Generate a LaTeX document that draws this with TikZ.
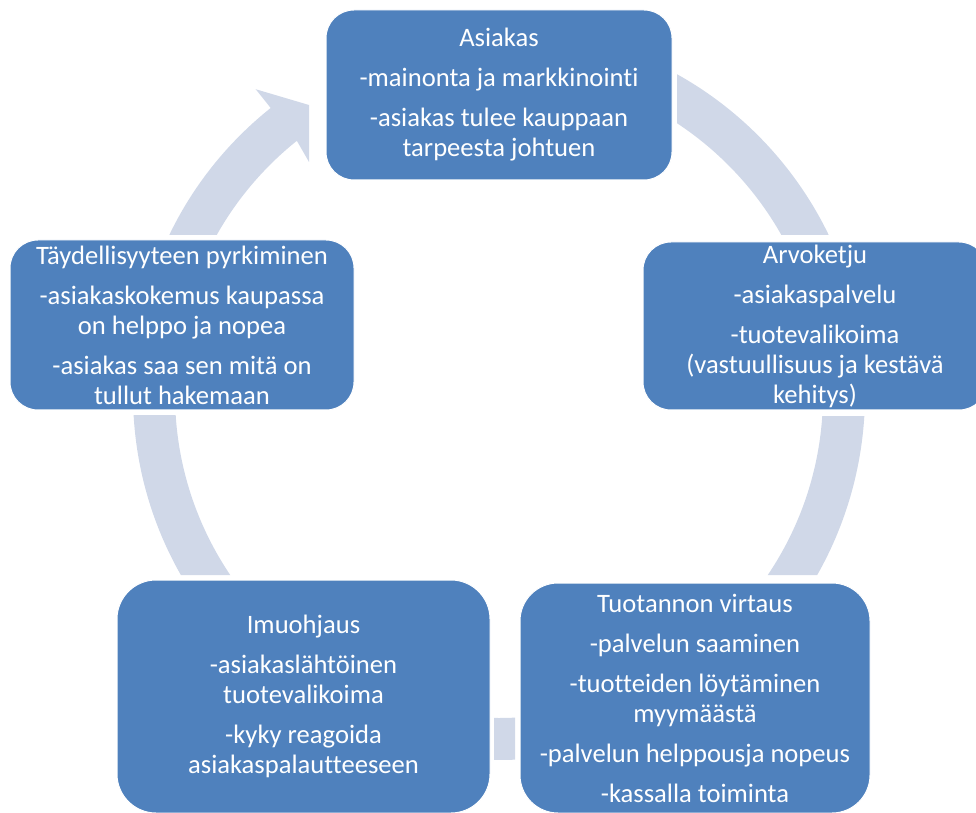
\documentclass[tikz,border=0pt]{standalone}
\usepackage{fontspec}
\setmainfont{Carlito}[Ligatures=NoCommon]
\definecolor{boxblue}{RGB}{79,129,189}
\definecolor{ringblue}{RGB}{208,216,232}
\begin{document}
\begin{tikzpicture}[x=1pt,y=1pt,
  stage/.style={fill=boxblue, draw=white, line width=1pt, text=white,
    align=center, inner sep=0pt, font=\fontsize{26.6}{30}\selectfont},
]
\useasboundingbox (0,0) rectangle (976,812);

% cycle ring with its arrow head, kept clear of the stage boxes
\begin{scope}[even odd rule]
  \clip (-20,-20) rectangle (1000,840)
    (309,600) rectangle (677,840)
    (-20,397) rectangle (380,577)
    (620,396) rectangle (1000,577)
    (90,-20) rectangle (494,237)
    (515,-20) rectangle (900,237);
  \fill[ringblue, nonzero rule, shift={(499,418)}]
    (128.6:324) -- (-190,232) -- (-190,289) -- (128.6:390) -- (128.6:366)
    arc[start angle=128.6, end angle=450, radius=366]
    -- (90:324)
    arc[start angle=450, end angle=128.6, radius=324] -- cycle;
\end{scope}

% stages
\node[stage, minimum width=346pt, minimum height=170pt, rounded corners=28pt]
  (asiakas) at (499,717)
  {Asiakas\\[10pt]-mainonta ja markkinointi\\[10pt]-asiakas tulee kauppaan\\tarpeesta johtuen};
\node[stage, minimum width=344pt, minimum height=168pt, rounded corners=28pt]
  (arvoketju) at (815,486)
  {Arvoketju\\[10pt]-asiakaspalvelu\\[10pt]-tuotevalikoima\\(vastuullisuus ja kestävä\\kehitys)};
\node[stage, minimum width=350pt, minimum height=230pt, rounded corners=38pt]
  (virtaus) at (695,114)
  {Tuotannon virtaus\\[10pt]-palvelun saaminen\\[10pt]-tuotteiden löytäminen\\myymäästä\\[10pt]-palvelun helppousja nopeus\\[10pt]-kassalla toiminta};
\node[stage, minimum width=373pt, minimum height=233pt, rounded corners=39pt]
  (imuohjaus) at (303.5,115.5)
  {Imuohjaus\\[10pt]-asiakaslähtöinen\\tuotevalikoima\\[10pt]-kyky reagoida\\asiakaspalautteeseen};
\node[stage, minimum width=344pt, minimum height=170pt, rounded corners=28pt]
  (taydellisyys) at (182,487)
  {Täydellisyyteen pyrkiminen\\[10pt]-asiakaskokemus kaupassa\\on helppo ja nopea\\[10pt]-asiakas saa sen mitä on\\tullut hakemaan};
\end{tikzpicture}
\end{document}
